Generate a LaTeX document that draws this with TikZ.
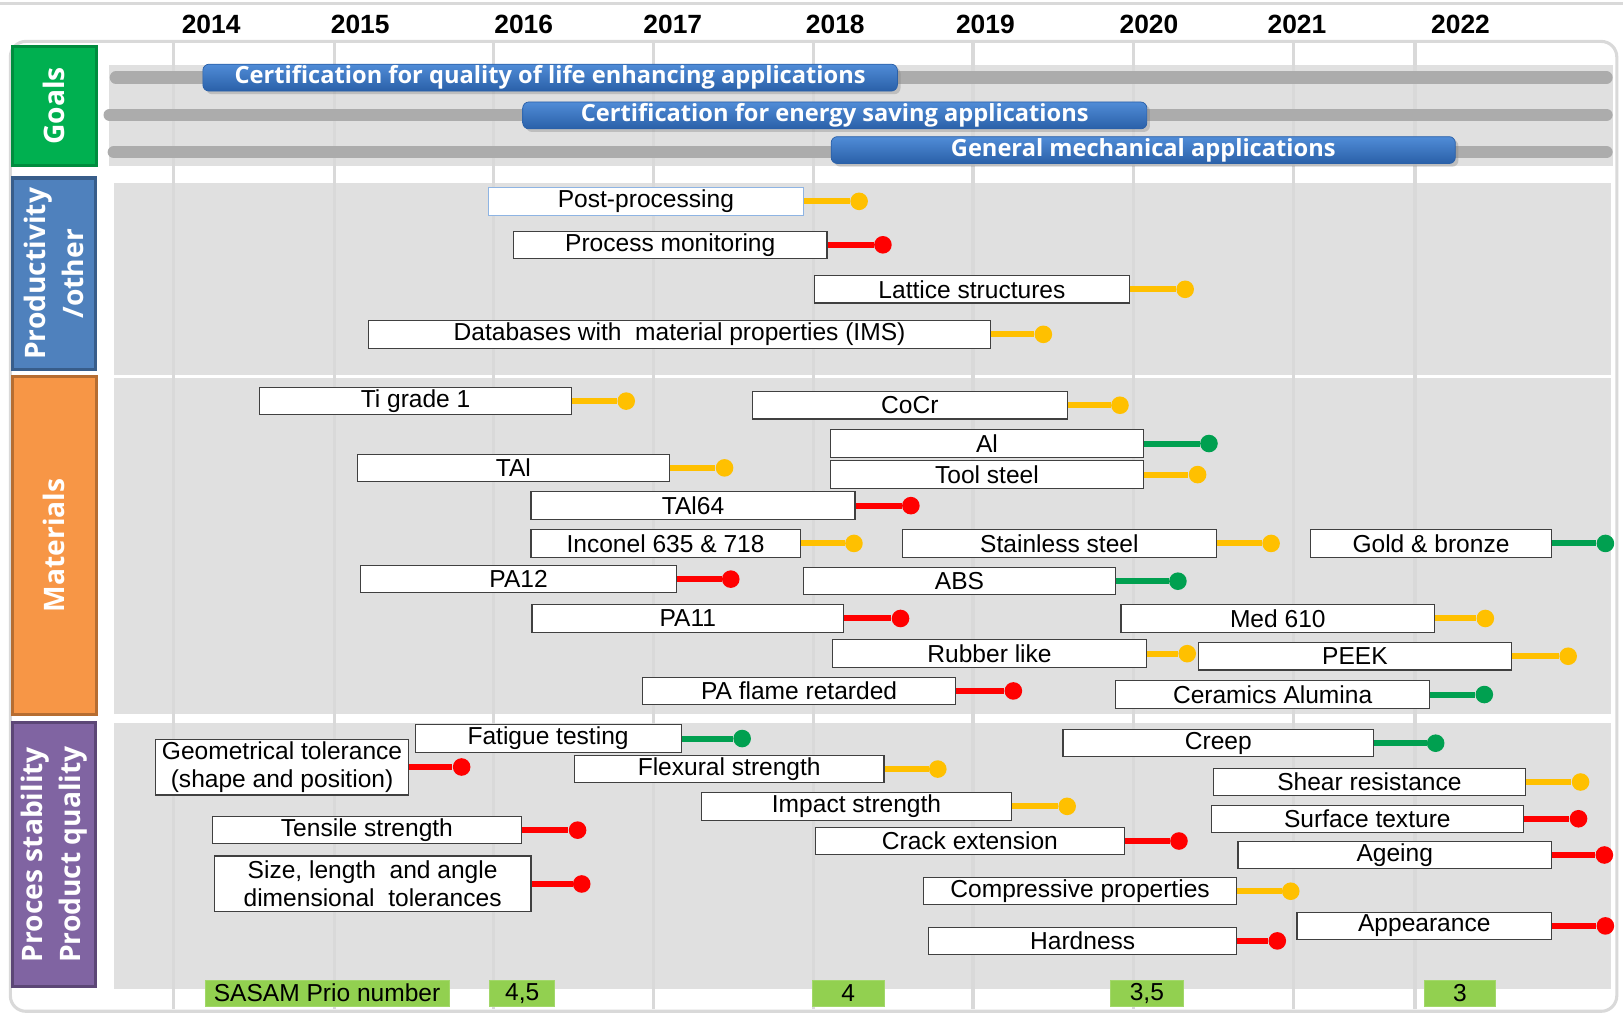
\documentclass[tikz,border=0pt]{standalone}
\usepackage{fontspec}
\setmainfont{Liberation Sans}
\newfontfamily\headfont{Open Sans}
\usetikzlibrary{calc,positioning,shadows}
\definecolor{SasYellow}{RGB}{255,192,0}
\definecolor{SasRed}{RGB}{255,0,0}
\definecolor{SasGreen}{RGB}{0,160,80}
\definecolor{SasBand}{RGB}{224,224,224}
\definecolor{SasLine}{RGB}{217,217,217}
\definecolor{SasTrack}{RGB}{172,172,172}
\definecolor{SasPrio}{RGB}{146,208,80}
\definecolor{GoalFill}{RGB}{0,176,80}\definecolor{GoalEdge}{RGB}{0,140,62}
\definecolor{ProdFill}{RGB}{79,129,189}\definecolor{ProdEdge}{RGB}{56,93,138}
\definecolor{MatFill}{RGB}{247,150,70}\definecolor{MatEdge}{RGB}{182,109,49}
\definecolor{ProcFill}{RGB}{128,100,162}\definecolor{ProcEdge}{RGB}{92,71,118}
\definecolor{BarTop}{RGB}{80,140,215}\definecolor{BarBot}{RGB}{42,96,168}
\definecolor{PostEdge}{RGB}{142,180,227}

\begin{document}
\begin{tikzpicture}[x=0.2mm,y=-0.2mm,
  task/.style={draw=black!75,fill=white,line width=0.6pt,minimum height=5.3mm,inner sep=0pt,font=\fontsize{13.5}{15.5}\selectfont},
  stick/.style={draw=#1,line width=1.15mm},
  dot/.style={circle,fill=#1,inner sep=0pt,minimum size=3.4mm},
  goal/.style={rounded corners=1.2mm,top color=BarTop,bottom color=BarBot,draw=BarBot,drop shadow={opacity=0.35,shadow xshift=0.6mm,shadow yshift=-0.6mm},minimum height=5.2mm,inner sep=0pt,text=white,font=\headfont\bfseries\fontsize{13}{14}\selectfont},
  cat/.style={rotate=90,line width=1.7pt,text=white,align=center,inner sep=0pt,font=\headfont\bfseries\fontsize{15.5}{21}\selectfont},
  track/.style={draw=SasTrack,line width=2.4mm,line cap=round},
  prio/.style={fill=SasPrio,draw=SasPrio!85!white,minimum height=5mm,inner sep=0pt,font=\fontsize{13.5}{15}\selectfont},
  year/.style={font=\bfseries\fontsize{14.5}{16}\selectfont}]
\fill[white] (0,0) rectangle (1568,982);
\useasboundingbox (0,0) rectangle (1568,982);
% frame and bands
\draw[SasLine,line width=1.7pt] (0,3)--(1568,3);
\draw[SasLine,line width=1.7pt,rounded corners=3mm] (10,40) rectangle (1562,977);
\fill[SasBand] (105,63) rectangle (1558,160);
\fill[SasBand] (110,177) rectangle (1556,362);
\fill[SasBand] (110,365) rectangle (1556,690);
\fill[SasBand] (110,698) rectangle (1556,955);
\foreach \x in {168,323,477,631,786,940,1095,1250,1367} \draw[SasLine,line width=1.7pt] (\x,42)--(\x,975);
% years
\node[year] (y2014) at (204,24) {2014};\node[year] (y2015) at (348,24) {2015};\node[year] (y2016) at (506,24) {2016};
\node[year] (y2017) at (650,24) {2017};\node[year] (y2018) at (807,24) {2018};\node[year] (y2019) at (952,24) {2019};
\node[year] (y2020) at (1110,24) {2020};\node[year] (y2021) at (1253,24) {2021};\node[year] (y2022) at (1411,24) {2022};
% goals
\draw[track] (112,75)--(1552,75);\draw[track] (106,111)--(1552,111);\draw[track] (110,147)--(1552,147);
\node[goal,minimum width=134.2mm] (life) at (531.5,75) {Certification for quality of life enhancing applications};
\node[goal,minimum width=120.6mm] (energy) at (806.5,111.5) {Certification for energy saving applications};
\node[goal,minimum width=120.6mm] (mech) at (1104.5,145) {General mechanical applications};
% categories
\node[cat,fill=GoalFill,draw=GoalEdge,minimum width=23mm,minimum height=16.2mm] (goals) at (52.5,102.5) {Goals};
\node[cat,fill=ProdFill,draw=ProdEdge,minimum width=37mm,minimum height=16mm] (prod) at (52,264.5) {Productivity\\/other};
\node[cat,fill=MatFill,draw=MatEdge,minimum width=65.2mm,minimum height=16.2mm] (mat) at (52.5,527) {Materials};
\node[cat,fill=ProcFill,draw=ProcEdge,minimum width=51mm,minimum height=16mm] (proc) at (52,825.5) {Proces stability\\Product quality};
% productivity / other
\node[task,draw=PostEdge,minimum width=60.8mm] (post) at (624,194.5) {Post-processing};\node[dot=SasYellow] (postd) at (830,194.5) {};\draw[stick=SasYellow] (post.east)--(postd);
\node[task,minimum width=60.6mm] (monit) at (647.5,236.5) {Process monitoring};\node[dot=SasRed] (monitd) at (853,236.5) {};\draw[stick=SasRed] (monit.east)--(monitd);
\node[task,minimum width=60.8mm] (lattice) at (939,279.5) {Lattice structures};\node[dot=SasYellow] (latticed) at (1145,279.5) {};\draw[stick=SasYellow] (lattice.east)--(latticed);
\node[task,minimum width=120.2mm] (dbase) at (656.5,323) {Databases with~ material properties (IMS)};\node[dot=SasYellow] (dbased) at (1008,323) {};\draw[stick=SasYellow] (dbase.east)--(dbased);
% materials
\node[task,minimum width=60.2mm] (ti) at (401.5,387.5) {Ti grade 1};\node[dot=SasYellow] (tid) at (605,387.5) {};\draw[stick=SasYellow] (ti.east)--(tid);
\node[task,minimum width=60.8mm] (cocr) at (879,391.5) {CoCr};\node[dot=SasYellow] (cocrd) at (1082,391.5) {};\draw[stick=SasYellow] (cocr.east)--(cocrd);
\node[task,minimum width=60.6mm] (al) at (953.5,428.5) {Al};\node[dot=SasGreen] (ald) at (1168,428.5) {};\draw[stick=SasGreen] (al.east)--(ald);
\node[task,minimum width=60.4mm] (tal) at (496,452) {TAl};\node[dot=SasYellow] (tald) at (700,452) {};\draw[stick=SasYellow] (tal.east)--(tald);
\node[task,minimum width=60.6mm] (tool) at (953.5,458.5) {Tool steel};\node[dot=SasYellow] (toold) at (1157,458.5) {};\draw[stick=SasYellow] (tool.east)--(toold);
\node[task,minimum width=62.6mm] (tal64) at (669.5,488.5) {TAl64};\node[dot=SasRed] (tal64d) at (880,488.5) {};\draw[stick=SasRed] (tal64.east)--(tal64d);
\node[task,minimum width=52mm] (inconel) at (643,525) {Inconel 635 \& 718};\node[dot=SasYellow] (inconeld) at (825,525) {};\draw[stick=SasYellow] (inconel.east)--(inconeld);
\node[task,minimum width=60.6mm] (steel) at (1023.5,525) {Stainless steel};\node[dot=SasYellow] (steeld) at (1228,525) {};\draw[stick=SasYellow] (steel.east)--(steeld);
\node[task,minimum width=46.6mm] (gold) at (1382.5,525) {Gold \& bronze};\node[dot=SasGreen] (goldd) at (1551,525) {};\draw[stick=SasGreen] (gold.east)--(goldd);
\node[task,minimum width=61.2mm] (pa12) at (501,559.5) {PA12};\node[dot=SasRed] (pa12d) at (706,559.5) {};\draw[stick=SasRed] (pa12.east)--(pa12d);
\node[task,minimum width=60.4mm] (abs) at (927,561.5) {ABS};\node[dot=SasGreen] (absd) at (1138,561.5) {};\draw[stick=SasGreen] (abs.east)--(absd);
\node[task,minimum width=60.2mm] (pa11) at (664.5,597.5) {PA11};\node[dot=SasRed] (pa11d) at (870,597.5) {};\draw[stick=SasRed] (pa11.east)--(pa11d);
\node[task,minimum width=60.6mm] (med) at (1234.5,597.5) {Med 610};\node[dot=SasYellow] (medd) at (1435,597.5) {};\draw[stick=SasYellow] (med.east)--(medd);
\node[task,minimum width=60.8mm] (rubber) at (956,631.5) {Rubber like};\node[dot=SasYellow] (rubberd) at (1147,631.5) {};\draw[stick=SasYellow] (rubber.east)--(rubberd);
\node[task,minimum width=60.4mm] (peek) at (1309,634) {PEEK};\node[dot=SasYellow] (peekd) at (1515,634) {};\draw[stick=SasYellow] (peek.east)--(peekd);
\node[task,minimum width=60.4mm] (paflame) at (772,667.5) {PA flame retarded};\node[dot=SasRed] (paflamed) at (979,667.5) {};\draw[stick=SasRed] (paflame.east)--(paflamed);
\node[task,minimum width=60.6mm] (ceram) at (1229.5,671) {Ceramics Alumina};\node[dot=SasGreen] (ceramd) at (1434,671) {};\draw[stick=SasGreen] (ceram.east)--(ceramd);
% process stability / product quality
\node[task,minimum width=49mm,minimum height=10.8mm,align=center] (geom) at (272.5,741) {Geometrical tolerance\\(shape and position)};\node[dot=SasRed] (geomd) at (446,741) {};\draw[stick=SasRed] (geom.east)--(geomd);
\node[task,minimum width=51.4mm] (fatigue) at (529.5,713.5) {Fatigue testing};\node[dot=SasGreen] (fatigued) at (717,713.5) {};\draw[stick=SasGreen] (fatigue.east)--(fatigued);
\node[task,minimum width=59.8mm] (flex) at (704.5,743) {Flexural strength};\node[dot=SasYellow] (flexd) at (906,743) {};\draw[stick=SasYellow] (flex.east)--(flexd);
\node[task,minimum width=59.8mm] (impact) at (827.5,779) {Impact strength};\node[dot=SasYellow] (impactd) at (1031,779) {};\draw[stick=SasYellow] (impact.east)--(impactd);
\node[task,minimum width=59.8mm] (tensile) at (354.5,802) {Tensile strength};\node[dot=SasRed] (tensiled) at (558,802) {};\draw[stick=SasRed] (tensile.east)--(tensiled);
\node[task,minimum width=59.6mm] (crack) at (937,812.5) {Crack extension};\node[dot=SasRed] (crackd) at (1139,812.5) {};\draw[stick=SasRed] (crack.east)--(crackd);
\node[task,minimum width=61.2mm,minimum height=10.8mm,align=center] (size) at (360,854) {Size, length~ and angle\\dimensional~ tolerances};\node[dot=SasRed] (sized) at (562,854) {};\draw[stick=SasRed] (size.east)--(sized);
\node[task,minimum width=60.6mm] (compr) at (1043.5,861) {Compressive properties};\node[dot=SasYellow] (comprd) at (1247,861) {};\draw[stick=SasYellow] (compr.east)--(comprd);
\node[task,minimum width=59.6mm] (hard) at (1046,909) {Hardness};\node[dot=SasRed] (hardd) at (1234,909) {};\draw[stick=SasRed] (hard.east)--(hardd);
\node[task,minimum width=60mm] (creep) at (1177,718) {Creep};\node[dot=SasGreen] (creepd) at (1387,718) {};\draw[stick=SasGreen] (creep.east)--(creepd);
\node[task,minimum width=60.4mm] (shear) at (1323,755.5) {Shear resistance};\node[dot=SasYellow] (sheard) at (1527,755.5) {};\draw[stick=SasYellow] (shear.east)--(sheard);
\node[task,minimum width=60.4mm] (surf) at (1321,791) {Surface texture};\node[dot=SasRed] (surfd) at (1525,791) {};\draw[stick=SasRed] (surf.east)--(surfd);
\node[task,minimum width=60.6mm] (ageing) at (1347.5,826) {Ageing};\node[dot=SasRed] (ageingd) at (1550,826) {};\draw[stick=SasRed] (ageing.east)--(ageingd);
\node[task,minimum width=49.2mm] (appear) at (1376,894.5) {Appearance};\node[dot=SasRed] (appeard) at (1551,894.5) {};\draw[stick=SasRed] (appear.east)--(appeard);
% prio numbers
\node[prio,minimum width=47.2mm] (prio) at (316,959.5) {SASAM Prio number};
\node[prio,minimum width=12.6mm] (p45) at (504.5,959.5) {4,5};\node[prio,minimum width=13.8mm] (p4) at (819.5,959.5) {4};
\node[prio,minimum width=14mm] (p35) at (1108,959.5) {3,5};\node[prio,minimum width=13.8mm] (p3) at (1410.5,959.5) {3};
\end{tikzpicture}
\end{document}
